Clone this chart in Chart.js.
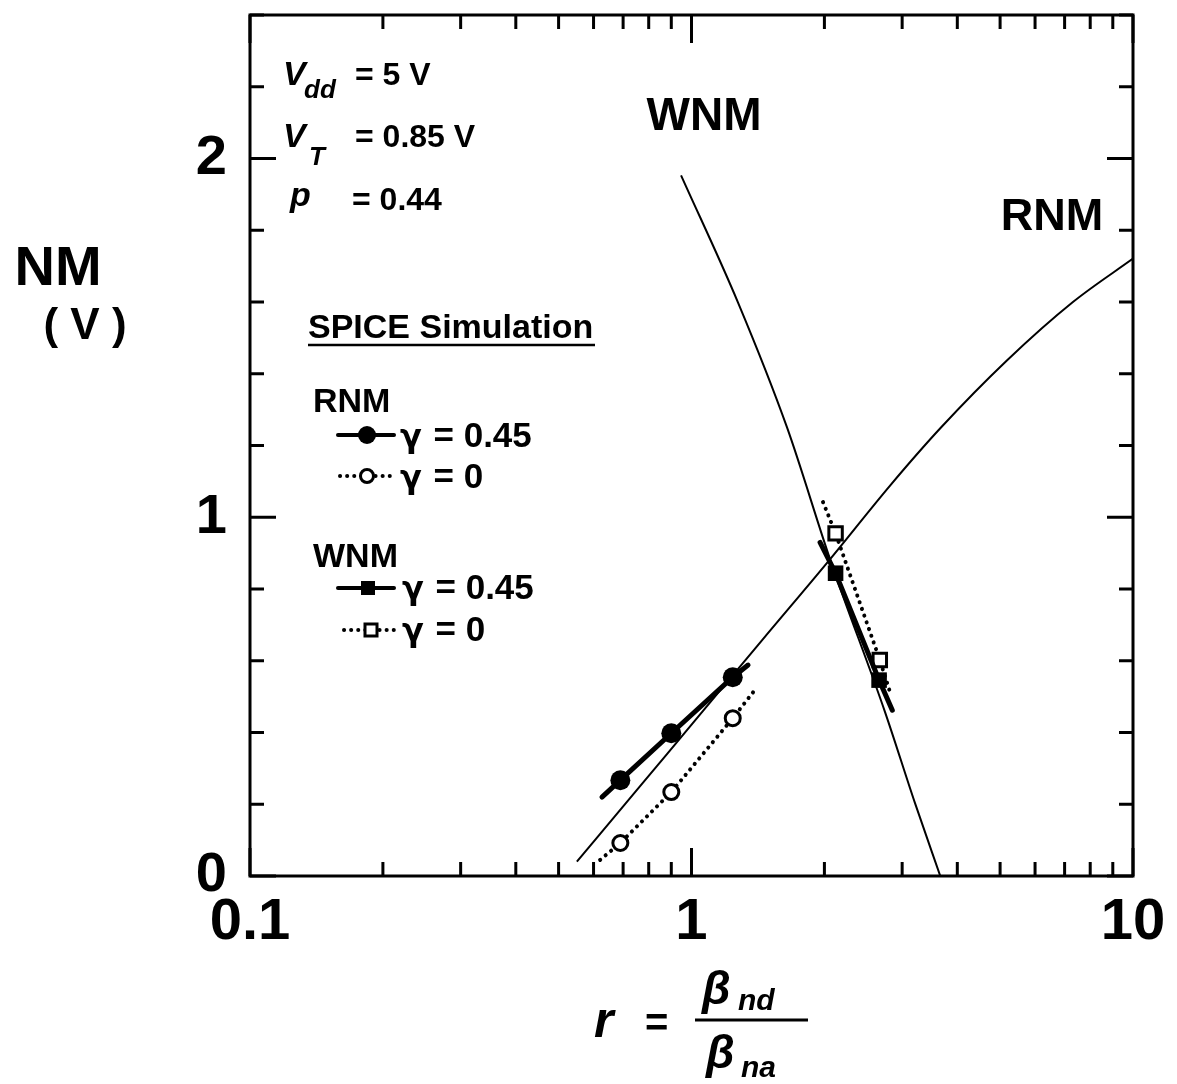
<!DOCTYPE html>
<html>
<head>
<meta charset="utf-8">
<script src="https://cdn.jsdelivr.net/npm/chart.js@4"></script>
<style>
  html, body { margin: 0; padding: 0; background: #fff; }
  canvas { display: block; }
</style>
</head>
<body>
<canvas id="nm" width="1177" height="1084"></canvas>
<script>
// axis ticks
const xTickValues = [0.1, 0.2, 0.3, 0.4, 0.5, 0.6, 0.7, 0.8, 0.9, 1, 2, 3, 4, 5, 6, 7, 8, 9, 10];
const yTickValues = [0, 0.2, 0.4, 0.6, 0.8, 1, 1.2, 1.4, 1.6, 1.8, 2, 2.2, 2.4];
const xTickLabels = ['0.1', '1', '10'];
const yTickLabels = ['0', '1', '2'];

// theory curves
const rnmTheoryR  = [0.55, 0.764, 1.062, 1.444, 2.05, 2.82, 3.66, 5.18, 7.31, 10];
const rnmTheoryNM = [0.04, 0.25, 0.46, 0.657, 0.88, 1.089, 1.248, 1.437, 1.600, 1.721];
const wnmTheoryR  = [0.947, 1.274, 1.645, 2.07, 2.744, 3.208, 3.66];
const wnmTheoryNM = [1.953, 1.599, 1.251, 0.875, 0.457, 0.203, 0];

// SPICE simulation (first/last entries = ends of the drawn line, no marker)
const rnmG45R  = [0.627, 0.69, 0.9, 1.24, 1.343];
const rnmG45NM = [0.22, 0.267, 0.398, 0.554, 0.588];
const rnmG0R   = [0.621, 0.69, 0.9, 1.24, 1.407];
const rnmG0NM  = [0.045, 0.092, 0.234, 0.44, 0.526];
const wnmG45R  = [1.955, 2.12, 2.66, 2.85];
const wnmG45NM = [0.93, 0.844, 0.546, 0.462];
const wnmG0R   = [1.986, 2.12, 2.67, 2.82];
const wnmG0NM  = [1.042, 0.955, 0.602, 0.51];

const F = "'Liberation Sans', Arial, Helvetica, sans-serif";
const pts = (xs, ys) => xs.map((x, i) => ({ x: x, y: ys[i] }));
const ends = (n, r) => Array.from({ length: n }, (_, i) => (i === 0 || i === n - 1) ? 0 : r);

function txt(ctx, s, x, y, size, opt) {
    opt = opt || {};
    ctx.font = (opt.italic ? 'italic ' : '') + (opt.light ? '' : 'bold ') + size + 'px ' + (opt.family || F);
    ctx.textAlign = opt.align || 'left';
    ctx.textBaseline = 'alphabetic';
    ctx.fillStyle = '#000';
    ctx.fillText(s, x, y);
    return ctx.measureText(s).width;
}

// gamma in DejaVu (looks closer to the printed one), rest in Liberation
function gammaLine(ctx, rest, x, y) {
    const w = txt(ctx, 'γ', x, y, 32, { family: "'DejaVu Sans', sans-serif" });
    txt(ctx, rest, x + w + 2, y, 35);
}

const decorPlugin = {
    id: 'decor',
    afterDraw(chart) {
        const ctx = chart.ctx;
        const a = chart.chartArea;
        const xs = chart.scales.x, ys = chart.scales.y;
        ctx.save();
        ctx.strokeStyle = '#000';

        // frame
        ctx.lineWidth = 3;
        ctx.strokeRect(a.left, a.top, a.right - a.left, a.bottom - a.top);

        // inward ticks
        ctx.lineWidth = 3;
        ctx.beginPath();
        xTickValues.forEach(v => {
            const px = xs.getPixelForValue(v);
            const len = xTickLabels.includes(String(v)) ? 28 : 14;
            ctx.moveTo(px, a.bottom); ctx.lineTo(px, a.bottom - len);
            ctx.moveTo(px, a.top); ctx.lineTo(px, a.top + len);
        });
        yTickValues.forEach(v => {
            const py = ys.getPixelForValue(v);
            const len = yTickLabels.includes(String(v)) ? 26 : 14;
            ctx.moveTo(a.left, py); ctx.lineTo(a.left + len, py);
            ctx.moveTo(a.right, py); ctx.lineTo(a.right - len, py);
        });
        ctx.stroke();

        // y axis title
        txt(ctx, 'NM', 58, 285, 56, { align: 'center' });
        txt(ctx, '( V )', 85, 339, 44, { align: 'center' });

        // x axis title r = beta_nd / beta_na
        txt(ctx, 'r', 594, 1037, 50, { italic: true });
        txt(ctx, '=', 645, 1036, 40);
        ctx.lineWidth = 3;
        ctx.beginPath(); ctx.moveTo(695, 1020); ctx.lineTo(808, 1020); ctx.stroke();
        txt(ctx, 'β', 702, 1004, 46, { italic: true });
        txt(ctx, 'nd', 738, 1010, 30, { italic: true });
        txt(ctx, 'β', 706, 1068, 46, { italic: true });
        txt(ctx, 'na', 741, 1077, 30, { italic: true });

        // curve labels
        txt(ctx, 'WNM', 704, 130, 46, { align: 'center' });
        txt(ctx, 'RNM', 1052, 230, 45, { align: 'center' });

        // parameters
        txt(ctx, 'V', 283, 85, 34, { italic: true });
        txt(ctx, 'dd', 304, 98, 26, { italic: true });
        txt(ctx, '= 5 V', 355, 85, 32);
        txt(ctx, 'V', 283, 147, 34, { italic: true });
        txt(ctx, 'T', 309, 165, 26, { italic: true });
        txt(ctx, '= 0.85 V', 355, 147, 32);
        txt(ctx, 'p', 290, 206, 34, { italic: true });
        txt(ctx, '= 0.44', 352, 210, 32);

        // legend block
        txt(ctx, 'SPICE Simulation', 308, 338, 34);
        ctx.lineWidth = 2.5;
        ctx.beginPath(); ctx.moveTo(308, 345); ctx.lineTo(595, 345); ctx.stroke();

        txt(ctx, 'RNM', 313, 412, 34);
        txt(ctx, 'WNM', 313, 567, 34);
        gammaLine(ctx, ' = 0.45', 400, 447);
        gammaLine(ctx, ' = 0', 400, 488);
        gammaLine(ctx, ' = 0.45', 402, 599);
        gammaLine(ctx, ' = 0', 402, 641);

        // legend glyphs
        ctx.lineCap = 'round';
        ctx.lineWidth = 4;
        ctx.beginPath(); ctx.moveTo(338, 435); ctx.lineTo(394, 435); ctx.stroke();
        ctx.beginPath(); ctx.moveTo(338, 588); ctx.lineTo(394, 588); ctx.stroke();
        ctx.setLineDash([0.1, 7]);
        ctx.beginPath(); ctx.moveTo(340, 476); ctx.lineTo(392, 476); ctx.stroke();
        ctx.beginPath(); ctx.moveTo(344, 630); ctx.lineTo(394, 630); ctx.stroke();
        ctx.setLineDash([]);
        ctx.fillStyle = '#000';
        ctx.beginPath(); ctx.arc(367, 435, 9, 0, Math.PI * 2); ctx.fill();
        ctx.fillRect(361, 581, 14, 14);
        ctx.fillStyle = '#fff';
        ctx.lineWidth = 3;
        ctx.beginPath(); ctx.arc(367, 476, 6.5, 0, Math.PI * 2); ctx.fill(); ctx.stroke();
        ctx.fillRect(365, 624, 12, 12); ctx.strokeRect(365, 624, 12, 12);

        ctx.restore();
    }
};

new Chart(document.getElementById('nm').getContext('2d'), {
    type: 'scatter',
    data: {
        datasets: [
            {
                label: 'RNM γ=0.45',
                data: pts(rnmG45R, rnmG45NM),
                showLine: true,
                borderColor: '#000',
                borderWidth: 5,
                borderCapStyle: 'round',
                pointRadius: ends(rnmG45R.length, 10),
                pointBackgroundColor: '#000',
                pointBorderWidth: 0
            },
            {
                label: 'RNM γ=0',
                data: pts(rnmG0R, rnmG0NM),
                showLine: true,
                borderColor: '#000',
                borderWidth: 4,
                borderDash: [0.1, 7],
                borderCapStyle: 'round',
                pointRadius: ends(rnmG0R.length, 7.5),
                pointBackgroundColor: '#fff',
                pointBorderColor: '#000',
                pointBorderWidth: 3
            },
            {
                label: 'WNM γ=0.45',
                data: pts(wnmG45R, wnmG45NM),
                showLine: true,
                borderColor: '#000',
                borderWidth: 5,
                borderCapStyle: 'round',
                pointStyle: 'rect',
                pointRadius: [0, 11, 11, 0],
                pointBackgroundColor: '#000',
                pointBorderWidth: 0
            },
            {
                label: 'WNM γ=0',
                data: pts(wnmG0R, wnmG0NM),
                showLine: true,
                borderColor: '#000',
                borderWidth: 4,
                borderDash: [0.1, 7],
                borderCapStyle: 'round',
                pointStyle: 'rect',
                pointRadius: [0, 9.5, 9.5, 0],
                pointBackgroundColor: '#fff',
                pointBorderColor: '#000',
                pointBorderWidth: 3
            },
            {
                label: 'RNM theory',
                data: pts(rnmTheoryR, rnmTheoryNM),
                showLine: true,
                borderColor: '#000',
                borderWidth: 2,
                cubicInterpolationMode: 'monotone',
                pointRadius: 0
            },
            {
                label: 'WNM theory',
                data: pts(wnmTheoryR, wnmTheoryNM),
                showLine: true,
                borderColor: '#000',
                borderWidth: 2,
                cubicInterpolationMode: 'monotone',
                pointRadius: 0
            }
        ]
    },
    options: {
        responsive: false,
        animation: false,
        layout: { padding: { left: 0, top: 15, right: 44, bottom: 0 } },
        scales: {
            x: {
                type: 'logarithmic',
                min: 0.1,
                max: 10,
                afterBuildTicks: axis => { axis.ticks = xTickValues.map(v => ({ value: v })); },
                afterFit: axis => {
                    axis.height = 208;
                    axis.paddingLeft = 0;
                    axis.paddingRight = 0;
                },
                grid: { display: false, drawTicks: false },
                border: { display: false },
                ticks: {
                    autoSkip: false,
                    maxRotation: 0,
                    padding: 12,
                    color: '#000',
                    font: { family: F, size: 58, weight: 'bold' },
                    callback: v => xTickLabels.includes(String(v)) ? String(v) : ''
                }
            },
            y: {
                min: 0,
                max: 2.4,
                afterBuildTicks: axis => { axis.ticks = yTickValues.map(v => ({ value: v })); },
                afterFit: axis => {
                    axis.width = 250;
                    axis.paddingTop = 0;
                    axis.paddingBottom = 0;
                },
                grid: { display: false, drawTicks: false },
                border: { display: false },
                ticks: {
                    autoSkip: false,
                    padding: 23,
                    color: '#000',
                    font: { family: F, size: 56, weight: 'bold' },
                    callback: v => yTickLabels.includes(String(v)) ? String(v) : ''
                }
            }
        },
        plugins: {
            legend: { display: false },
            tooltip: { enabled: false }
        }
    },
    plugins: [decorPlugin]
});
</script>
</body>
</html>
